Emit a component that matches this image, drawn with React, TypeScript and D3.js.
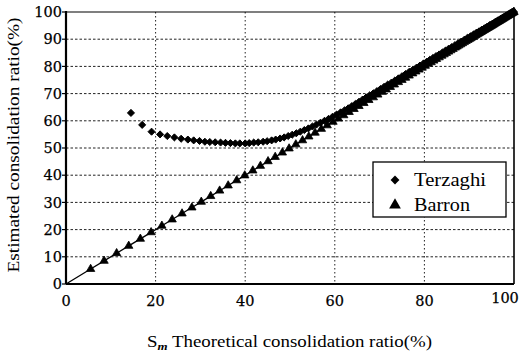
import React from "react";
import * as d3 from "d3";

const xTicks = [0, 20, 40, 60, 80, 100];
const yTicks = [0, 10, 20, 30, 40, 50, 60, 70, 80, 90, 100];

const barronX = [5.5, 8.5, 11.3, 14.0, 16.6, 19.0, 21.4, 23.7, 25.9, 28.1, 30.2, 32.3, 34.3, 36.2, 38.1, 39.9, 41.7, 43.4, 45.1, 46.7, 48.3, 49.8, 51.3, 52.8, 54.2, 55.6, 57.0, 58.3, 59.6, 60.8, 62.0, 63.2, 64.3, 65.4, 66.5, 67.6, 68.6, 69.6, 70.6, 71.5, 72.4, 73.3, 74.2, 75.0, 75.8, 76.6, 77.4, 78.1, 78.8, 79.5, 80.2, 80.9, 81.5, 82.1, 82.7, 83.3, 83.9, 84.4, 84.9, 85.4, 85.9, 86.4, 86.9, 87.3, 87.7, 88.1, 88.5, 88.9, 89.3, 89.7, 90.0, 90.3, 90.6, 90.9, 91.2, 91.5, 91.8, 92.1, 92.3, 92.6, 92.8, 93.0, 93.3, 93.5, 93.7, 93.9, 94.1, 94.3, 94.5, 94.7, 94.9, 95.1, 95.3, 95.5, 95.7, 95.9, 96.1, 96.3, 96.5, 96.7, 96.9, 97.1, 97.3, 97.5, 97.7, 97.9, 98.1, 98.3, 98.5, 98.7, 98.9, 99.1, 99.3, 99.5, 99.7, 99.9, 100];
const barronY = [5.5, 8.5, 11.3, 14.0, 16.6, 19.0, 21.4, 23.7, 25.9, 28.1, 30.2, 32.3, 34.3, 36.2, 38.1, 39.9, 41.7, 43.4, 45.1, 46.7, 48.3, 49.8, 51.3, 52.8, 54.2, 55.6, 57.0, 58.3, 59.6, 60.8, 62.0, 63.2, 64.3, 65.4, 66.5, 67.6, 68.6, 69.6, 70.6, 71.5, 72.4, 73.3, 74.2, 75.0, 75.8, 76.6, 77.4, 78.1, 78.8, 79.5, 80.2, 80.9, 81.5, 82.1, 82.7, 83.3, 83.9, 84.4, 84.9, 85.4, 85.9, 86.4, 86.9, 87.3, 87.7, 88.1, 88.5, 88.9, 89.3, 89.7, 90.0, 90.3, 90.6, 90.9, 91.2, 91.5, 91.8, 92.1, 92.3, 92.6, 92.8, 93.0, 93.3, 93.5, 93.7, 93.9, 94.1, 94.3, 94.5, 94.7, 94.9, 95.1, 95.3, 95.5, 95.7, 95.9, 96.1, 96.3, 96.5, 96.7, 96.9, 97.1, 97.3, 97.5, 97.7, 97.9, 98.1, 98.3, 98.5, 98.7, 98.9, 99.1, 99.3, 99.5, 99.7, 99.9, 100];

const terzaghiX = [14.5, 17.0, 19.1, 21.0, 22.6, 24.2, 25.7, 27.2, 28.5, 29.8, 31.0, 32.1, 33.3, 34.5, 35.6, 36.7, 37.8, 38.8, 40.0, 40.9, 41.9, 42.9, 44.0, 44.9, 45.9, 46.8, 47.8, 48.7, 49.6, 50.5, 51.4, 52.3, 53.2, 54.1, 55.0, 55.9, 56.8, 57.7, 58.6, 59.5, 60.4, 61.3, 62.2, 63.0, 63.8, 64.6, 65.4, 66.2, 67.0, 67.8, 68.6, 69.4, 70.2, 71.0, 71.8, 72.6, 73.4, 74.2, 75.0, 75.8, 76.6, 77.4, 78.2, 79.0, 79.8, 80.5, 81.2, 81.9, 82.6, 83.3, 84.0, 84.7, 85.4, 86.1, 86.8, 87.5, 88.2, 88.9, 89.6, 90.3, 91.0, 91.6, 92.2, 92.8, 93.4, 94.0, 94.6, 95.2, 95.8, 96.4, 97.0, 97.6, 98.2, 98.8, 99.4, 100.0];
const terzaghiY = [62.9, 58.5, 56.0, 55.0, 54.4, 53.9, 53.4, 53.1, 52.8, 52.6, 52.3, 52.2, 52.1, 52.0, 51.9, 51.8, 51.7, 51.7, 51.7, 51.8, 52.0, 52.1, 52.3, 52.5, 52.8, 53.1, 53.5, 53.9, 54.4, 54.9, 55.4, 56.0, 56.6, 57.2, 57.9, 58.6, 59.3, 60.0, 60.7, 61.5, 62.3, 63.1, 63.9, 64.6, 65.4, 66.2, 67.0, 67.8, 68.6, 69.4, 70.1, 70.9, 71.7, 72.5, 73.3, 74.0, 74.8, 75.6, 76.4, 77.2, 78.0, 78.7, 79.5, 80.3, 81.1, 81.7, 82.4, 83.1, 83.8, 84.4, 85.1, 85.8, 86.5, 87.1, 87.8, 88.5, 89.1, 89.8, 90.5, 91.1, 91.8, 92.4, 92.9, 93.5, 94.0, 94.6, 95.2, 95.7, 96.3, 96.9, 97.4, 98.0, 98.5, 99.1, 99.6, 100.0];

const seriesNames = ["Terzaghi", "Barron"];

const W = 529, H = 351;
const X0 = 66, X1 = 514, Y0 = 284, Y1 = 12;

export default function App() {
  const x = d3.scaleLinear().domain([0, 100]).range([X0, X1]);
  const y = d3.scaleLinear().domain([0, 100]).range([Y0, Y1]);
  const tri = d3.symbol().type(d3.symbolTriangle).size(30)()!;
  const dia = d3.symbol().type(d3.symbolDiamond2).size(32)()!;
  const triL = d3.symbol().type(d3.symbolTriangle).size(60)()!;
  const diaL = d3.symbol().type(d3.symbolDiamond2).size(50)()!;
  const barronPts: [number, number][] = [[0, 0], ...barronX.map((v, i) => [v, barronY[i]] as [number, number])];
  const line = d3.line<[number, number]>().x(d => x(d[0])).y(d => y(d[1]));
  const font = "'DejaVu Serif', serif";
  const lfont = "'Liberation Serif', serif";
  return (
    <svg width={W} height={H} style={{ position: "absolute", left: 0, top: 0, background: "#fff" }}>
      <rect x={0} y={0} width={W} height={H} fill="#fff" />
      {/* grid */}
      {xTicks.filter(t => t > 0 && t < 100).map(t => (
        <line key={"gx" + t} x1={x(t)} x2={x(t)} y1={Y1} y2={Y0} stroke="#222" strokeWidth={1} strokeDasharray="1.5,2.5" />
      ))}
      {yTicks.filter(t => t > 0 && t < 100).map(t => (
        <line key={"gy" + t} x1={X0} x2={X1} y1={y(t)} y2={y(t)} stroke="#222" strokeWidth={1} strokeDasharray="2.5,2" />
      ))}
      {/* frame */}
      <line x1={X0} x2={X1} y1={Y1} y2={Y1} stroke="#000" strokeWidth={1.2} />
      <line x1={X1} x2={X1} y1={Y1} y2={Y0} stroke="#000" strokeWidth={1.6} />
      <line x1={X0} x2={X0} y1={Y1 - 1} y2={Y0} stroke="#000" strokeWidth={2.2} />
      <line x1={X0} x2={X1} y1={Y0} y2={Y0} stroke="#000" strokeWidth={2} />
      {yTicks.map(t => (
        <g key={"yt" + t}>
          <line x1={X0 - 4} x2={X0} y1={y(t)} y2={y(t)} stroke="#000" strokeWidth={1.2} />
          <text x={X0 - 4} y={y(t)} dy="0.36em" textAnchor="end" fontFamily={font} fontSize={14.5} fill="#000" stroke="#000" strokeWidth={0.25}>{t}</text>
        </g>
      ))}
      {xTicks.map(t => (
        <text key={"xt" + t} x={x(t) + (t === 100 ? -9 : 0)} y={Y0 + 22 - (t === 100 ? 3 : 0)} textAnchor="middle" fontFamily={font} fontSize={14.5} fill="#000" stroke="#000" strokeWidth={0.25}>{t}</text>
      ))}
      {/* Barron */}
      <path d={line(barronPts)!} fill="none" stroke="#000" strokeWidth={1.3} />
      {barronX.map((v, i) => (
        <path key={"b" + i} d={tri} transform={`translate(${x(v)},${y(barronY[i])})`} fill="#000" stroke="#000" strokeWidth={0.8} />
      ))}
      {/* Terzaghi */}
      {terzaghiX.map((v, i) => (
        <path key={"t" + i} d={dia} transform={`translate(${x(v)},${y(terzaghiY[i])})`} fill="#000" stroke="#000" strokeWidth={1} strokeLinejoin="round" />
      ))}
      {/* legend */}
      <rect x={373} y={162} width={133} height={55} fill="#fff" stroke="#000" strokeWidth={1.3} />
      <path d={diaL} transform="translate(395,180)" fill="#000" />
      <path d={triL} transform="translate(395,205)" fill="#000" />
      <text x={414} y={186} fontFamily={lfont} fontSize={18} textLength={72} lengthAdjust="spacingAndGlyphs" fill="#000">{seriesNames[0]}</text>
      <text x={414} y={211} fontFamily={lfont} fontSize={18} textLength={56} lengthAdjust="spacingAndGlyphs" fill="#000">{seriesNames[1]}</text>
      {/* axis titles */}
      <text x={147} y={347} fontFamily={lfont} fontSize={16} fill="#000" textLength={285} lengthAdjust="spacingAndGlyphs">
        S<tspan fontSize={11} fontWeight="bold" fontStyle="italic" dy={3}>m</tspan><tspan dy={-3}>{" Theoretical consolidation ratio(%)"}</tspan>
      </text>
      <text transform="translate(19,145) rotate(-90)" textAnchor="middle" fontFamily={lfont} fontSize={16.5} fill="#000" textLength={255} lengthAdjust="spacingAndGlyphs">Estimated consolidation ratio(%)</text>
    </svg>
  );
}
